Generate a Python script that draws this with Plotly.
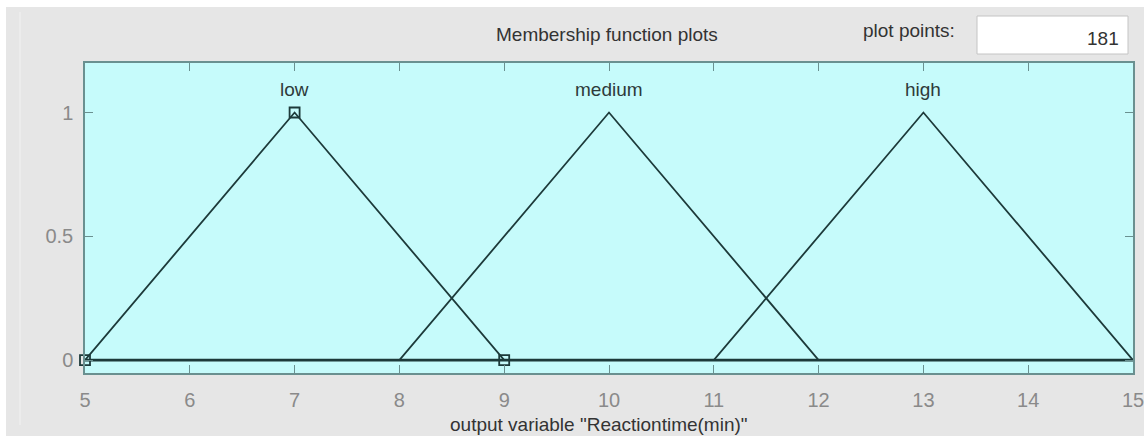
import plotly.graph_objects as go

# ---- data ----
mf_names = ["low", "medium", "high"]
mf_params = [[5, 7, 9], [8, 10, 12], [11, 13, 15]]
x_range = [5, 15]
x_ticks = [5, 6, 7, 8, 9, 10, 11, 12, 13, 14, 15]
y_ticks = [0, 0.5, 1]
y_tick_labels = ["0", "0.5", "1"]
selected_mf = 0
plot_points = "181"
var_title = 'output variable "Reactiontime(min)"'
panel_title = "Membership function plots"

# ---- layout constants (pixels) ----
W, H = 1144, 437
L, R, T, B = 85, 11, 63, 64
PW, PH = W - L - R, H - T - B

def px(x):  # pixel x -> paper x
    return (x - L) / PW

def py(y):  # pixel y -> paper y
    return (H - B - y) / PH

FONT = "Liberation Sans, Arial, sans-serif"
LINE = "#1d3a3a"
FRAME = "#6a9090"
PLOT_BG = "#c6fbfb"

fig = go.Figure()

# combined zero baseline of all MFs (overlapping lines look heavier)
fig.add_trace(go.Scatter(
    x=x_range, y=[0, 0], mode="lines", line=dict(color=LINE, width=2.6),
    hoverinfo="skip", showlegend=False, cliponaxis=False,
))

for i, (name, (a, b, c)) in enumerate(zip(mf_names, mf_params)):
    fig.add_trace(go.Scatter(
        x=[x_range[0], a, b, c, x_range[1]],
        y=[0, 0, 1, 0, 0],
        mode="lines",
        line=dict(color=LINE, width=1.8),
        hoverinfo="skip",
        showlegend=False,
        cliponaxis=False,
    ))
    fig.add_annotation(x=b, y=1.095, xref="x", yref="y", text=name,
                       showarrow=False, font=dict(family=FONT, size=19, color="#2e3a3a"))

a, b, c = mf_params[selected_mf]
fig.add_trace(go.Scatter(
    x=[a, b, c], y=[0, 1, 0], mode="markers",
    marker=dict(symbol="square-open", size=10, color=LINE, line=dict(width=1.8)),
    hoverinfo="skip", showlegend=False, cliponaxis=False,
))

shapes = [
    # gray panel
    dict(type="rect", xref="paper", yref="paper", x0=px(6), x1=px(1144), y0=py(436), y1=py(7),
         fillcolor="#e6e6e6", line=dict(width=0), layer="below"),
    dict(type="line", xref="paper", yref="paper", x0=px(20), x1=px(20), y0=py(425), y1=py(12),
         line=dict(color="#f2f2f2", width=1), layer="below"),
    # plot area background
    dict(type="rect", xref="paper", yref="paper", x0=0, x1=1, y0=0, y1=1,
         fillcolor=PLOT_BG, line=dict(width=0), layer="below"),
    # plot-points box
    dict(type="rect", xref="paper", yref="paper", x0=px(977), x1=px(1128), y0=py(54), y1=py(16),
         fillcolor="white", line=dict(color="#c4c4c4", width=1)),
]

annotations = [
    dict(x=px(607), y=py(34), xref="paper", yref="paper", text=panel_title, showarrow=False,
         font=dict(family=FONT, size=19, color="#333333"), xanchor="center", yanchor="middle"),
    dict(x=px(957), y=py(31), xref="paper", yref="paper", text="plot points:", showarrow=False,
         font=dict(family=FONT, size=19, color="#333333"), xanchor="right", yanchor="middle"),
    dict(x=px(1121), y=py(38), xref="paper", yref="paper", text=plot_points, showarrow=False,
         font=dict(family=FONT, size=19, color="#333333"), xanchor="right", yanchor="middle"),
    dict(x=px(599), y=py(424), xref="paper", yref="paper", text=var_title, showarrow=False,
         font=dict(family=FONT, size=19, color="#333333"), xanchor="center", yanchor="middle"),
]

fig.update_layout(
    width=W, height=H,
    margin=dict(l=L, r=R, t=T, b=B, pad=0, autoexpand=False),
    paper_bgcolor="white",
    plot_bgcolor=PLOT_BG,
    shapes=shapes,
    annotations=list(fig.layout.annotations) + annotations,
    font=dict(family=FONT),
)

fig.update_xaxes(
    range=x_range, tickvals=x_ticks, ticktext=[str(t) for t in x_ticks],
    ticks="inside", ticklen=8, tickcolor=FRAME, tickwidth=1,
    showline=True, linecolor=FRAME, linewidth=1.5, mirror="ticks",
    showgrid=False, zeroline=False, automargin=False,
    tickfont=dict(family=FONT, size=20, color="#8a8a8a"),
    ticklabelstandoff=8, ticklabeloverflow="allow",
)
fig.update_yaxes(
    range=[-0.052, 1.2], tickvals=y_ticks, ticktext=y_tick_labels,
    ticks="inside", ticklen=8, tickcolor=FRAME, tickwidth=1,
    showline=True, linecolor=FRAME, linewidth=1.5, mirror="ticks",
    showgrid=False, zeroline=False, automargin=False,
    tickfont=dict(family=FONT, size=20, color="#8a8a8a"),
    ticklabelstandoff=6, ticklabeloverflow="allow",
)

fig.write_html(
    "out.html",
    config={"displayModeBar": False},
    post_script="document.body.style.margin='0px';document.body.style.overflow='hidden';",
)
